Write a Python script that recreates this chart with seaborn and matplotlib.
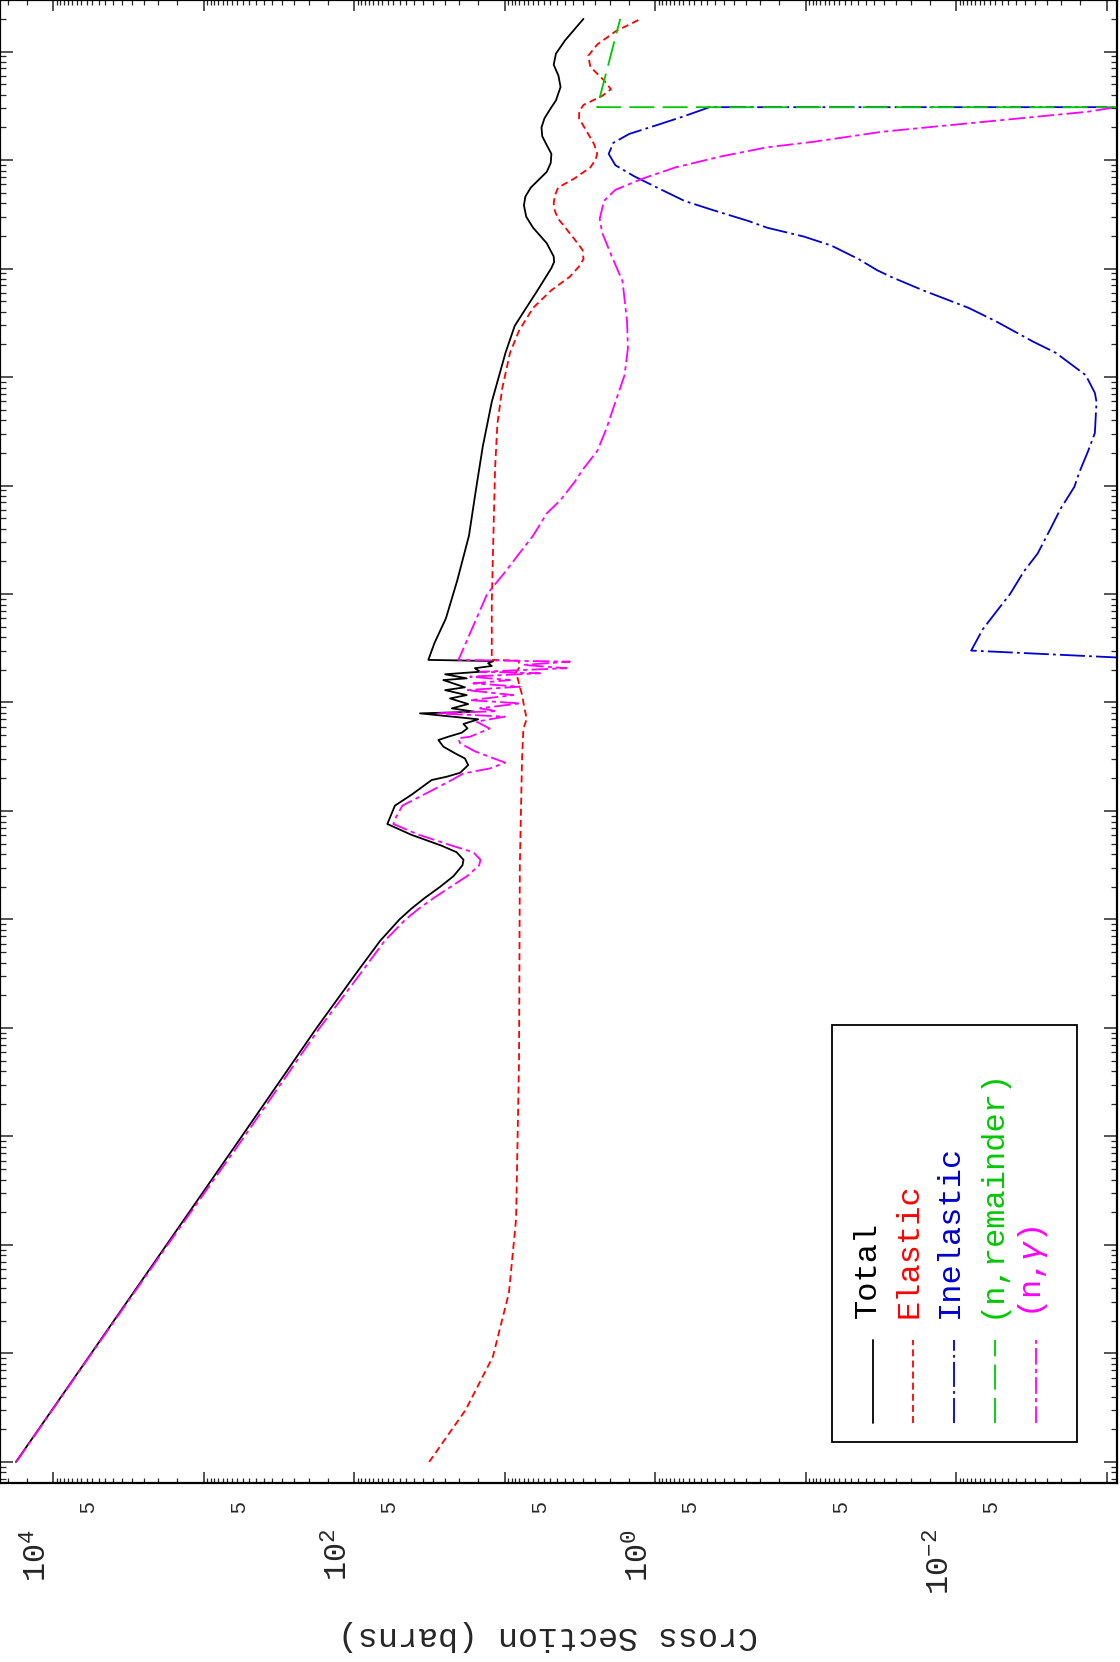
import numpy as np
import matplotlib
matplotlib.use('Agg')
import matplotlib.pyplot as plt
import seaborn as sns
from matplotlib.patches import Rectangle
from matplotlib.ticker import LogLocator

# energies in eV, cross sections in barns
total_e = [1e-5, 1e-4, 1e-3, 0.01, 0.1, 0.316, 0.631, 1.0, 1.26, 1.585, 2.0, 2.51, 3.16, 3.55, 4.17,
           4.79, 6.03, 7.59, 8.91, 11.2, 14.1, 19.3, 20.7, 22.5, 26.5, 30.5, 34.0, 39.2, 45.1, 48.4,
           52.7, 57.8, 63.4, 70.0, 79.4, 82.2, 88.3, 96.8, 109, 117, 130, 138, 161, 167, 182, 192,
           207, 217, 230, 241, 247, 354, 597, 1330, 3440, 8870, 2.29e4, 5.9e4, 1.67e5, 2.96e5,
           4.33e5, 6.31e5, 1.01e6, 1.15e6, 1.29e6, 1.71e6, 2.38e6, 3.0e6, 3.82e6, 4.6e6, 5.58e6,
           7.78e6, 9.4e6, 1.14e7, 1.4e7, 1.66e7, 2.0e7, 2.42e7, 3.0e7, 3.54e7, 4.71e7, 6.0e7, 7.55e7,
           9.57e7, 1.27e8, 2.0e8]
total_xs = [1.77e4, 5600, 1770, 560, 178, 97.7, 67.6, 50.1, 41.7, 33.9, 26.9, 21.9, 19.1, 18.8, 20.9,
            26.3, 41.7, 60.3, 57.5, 53.7, 41.7, 30.6, 24.3, 19.8, 17.5, 18.4, 21.4, 25.6, 27.6, 23.7,
            19.3, 17.7, 18.8, 15.0, 36.6, 15.8, 22.5, 17.5, 23.1, 17.9, 24.9, 18.4, 25.6, 17.9, 24.9,
            14.6, 15.8, 12.2, 12.9, 11.9, 32.2, 29.3, 24.6, 20.7, 17.3, 15.6, 14.0, 12.2, 9.89, 8.59,
            7.21, 6.05, 4.90, 4.70, 4.73, 5.26, 6.49, 7.2, 7.46, 7.3, 6.71,
            5.26, 4.95, 4.90, 5.3, 5.64, 5.7, 5.45, 4.95, 4.57, 4.26, 4.4, 4.73,
            4.57, 3.97, 3.0]

elastic_e = [1e-5, 3.02e-5, 9.33e-5, 3.63e-4, 1.74e-3, 0.0501, 3.16, 19.3, 31.6, 57.5, 70.8, 89.1,
             117, 158, 191, 214, 243, 247, 832, 3440, 1.43e4, 3.68e4, 7.85e4, 1.67e5, 2.69e5,
             4.33e5, 6.31e5, 8.39e5, 1.05e6, 1.22e6, 1.48e6, 1.87e6, 2.88e6, 3.4e6, 4.01e6, 4.7e6,
             5.58e6, 6.75e6, 8.55e6, 1.0e7, 1.14e7, 1.4e7, 1.74e7, 2.42e7, 2.8e7, 3.22e7, 3.89e7,
             4.49e7, 5.42e7, 7.21e7, 9.14e7, 1.16e8, 1.54e8, 2.0e8]
elastic_xs = [31.8, 18.2, 12.0, 9.38, 8.41, 8.04, 7.94, 7.73, 7.67, 7.52, 7.14, 7.41,
              7.67, 8.13, 8.41, 7.93, 8.13, 12.2, 12.2, 11.9, 11.6, 11.2, 10.4, 9.23, 8.02,
              6.49, 4.90, 3.70, 3.2, 3.0, 3.04, 3.45, 4.42, 4.65, 4.73, 4.65,
              4.42, 3.45, 2.70, 2.5, 2.43, 2.55, 2.79, 3.21, 3.2, 3.0, 2.26,
              1.97, 2.19, 2.70, 2.79, 2.43, 1.83, 1.25]

inelastic_e = [251, 301, 471, 687, 1000, 1610, 2360, 4160, 6080, 9750, 1.30e4, 2.08e4, 3.04e4,
               5.9e4, 7.14e4, 1.04e5, 1.67e5, 2.12e5, 3.25e5, 4.33e5, 5.22e5, 6.31e5, 8.39e5,
               9.66e5, 1.22e6, 1.63e6, 1.97e6, 2.38e6, 2.74e6, 3.48e6, 4.20e6, 5.58e6, 7.08e6,
               8.95e6, 1.14e7, 1.44e7, 1.74e7, 2.10e7, 2.54e7, 3.07e7, 3.07e7]
inelastic_xs = [5.0e-4, 7.96e-3, 6.68e-3, 5.42e-3, 4.39e-3, 3.56e-3, 2.88e-3, 2.33e-3, 2.03e-3,
                1.64e-3, 1.53e-3, 1.33e-3, 1.20e-3, 1.17e-3, 1.20e-3, 1.38e-3, 2.18e-3, 3.09e-3,
                5.42e-3, 8.26e-3, 0.0117, 0.0167, 0.0272, 0.0336, 0.0445, 0.0678, 0.103, 0.181,
                0.240, 0.421, 0.640, 0.975, 1.38, 1.84, 2.04, 1.90, 1.49, 0.975, 0.640, 0.436, 1e-6]

remainder_e = [3.07e7, 3.07e7, 2.0e8]
remainder_xs = [1e-6, 2.43, 1.71]

capture_e = [1e-5, 1e-4, 1e-3, 0.01, 0.1, 0.316, 0.631, 1.0, 1.26, 1.585, 2.0, 2.51, 3.16, 3.55,
             4.17, 4.79, 6.03, 7.59, 8.91, 11.2, 14.1, 19.3, 22.2, 24.7, 27.9, 35.5, 42.1, 46.8,
             48.4, 57.5, 66.5, 74.1, 79.4, 83.2, 88.3, 98.2, 105, 117, 130, 140, 150, 161, 173,
             186, 192, 207, 222, 238, 247, 518, 1000, 1610, 2360, 3440, 5530, 7350, 1.07e4,
             1.43e4, 2.08e4, 3.35e4, 5.9e4, 1.04e5, 1.84e5, 3.25e5, 7.62e5, 1.35e6, 2.16e6,
             2.88e6, 4.20e6, 5.32e6, 6.75e6, 8.55e6, 1.08e7, 1.31e7, 1.47e7, 1.82e7, 2.10e7,
             2.42e7, 2.79e7, 3.07e7, 3.07e7]
capture_xs = [1.76e4, 5560, 1740, 537, 170, 91.2, 63.1, 45.7, 37.2, 29.5, 22.9, 17.8, 14.8, 14.5,
              16.2, 22.4, 37.2, 55.0, 52.5, 47.9, 34.7, 22.5, 18.8, 12.5, 9.95, 15.8, 19.8, 20.4,
              17.0, 12.6, 15.4, 10.0, 28.2, 11.3, 14.6, 7.93, 17.0, 8.77, 17.9, 7.93, 16.2, 9.23,
              17.0, 5.83, 14.6, 3.88, 7.53, 3.69, 20.3, 16.1, 13.1, 9.89, 8.02, 6.49, 5.26, 4.26,
              3.45, 3.0, 2.43, 2.11, 1.84, 1.60, 1.52, 1.54, 1.65, 1.97, 2.26, 2.34, 2.19, 1.84,
              1.21, 0.736, 0.365, 0.181, 0.0897, 0.0313, 0.0109, 0.00381, 0.00133, 8.73e-4, 1e-6]

legend_names = ['Total', 'Elastic', 'Inelastic', '(n,remainder)', '(n,$\\mathit{\\gamma}$)']
xs_major = [1e-3, 1e-2, 1e-1, 1.0, 10.0, 100.0, 1e3, 1e4]
xs_major_labels = ['', '$10^{-2}$', '', '$10^{0}$', '', '$10^{2}$', '', '$10^{4}$']

sns.set_style('white')
plt.rcParams['font.family'] = ['Liberation Mono', 'DejaVu Sans']
plt.rcParams['mathtext.fontset'] = 'custom'
plt.rcParams['mathtext.rm'] = 'Liberation Mono'
plt.rcParams['mathtext.it'] = 'Liberation Mono:italic'
plt.rcParams['mathtext.default'] = 'rm'
plt.rcParams['lines.scale_dashes'] = False

colors = ['black', '#ff0000', '#0000d0', '#00c800', '#ff00ff']
styles = ['-', (0, (5, 3)), (0, (18, 3, 2, 3)), (0, (18, 6)), (0, (12, 3, 3, 3))]

fig = plt.figure(figsize=(11.2, 16.62), dpi=100)
ax = fig.add_axes([0.0, 1 - 1483 / 1662, 1117 / 1120, 1483 / 1662])
ax.set_xscale('log')
ax.set_yscale('log')

data = [(total_xs, total_e), (elastic_xs, elastic_e), (inelastic_xs, inelastic_e),
        (remainder_xs, remainder_e), (capture_xs, capture_e)]
for (xs, e), c, ls in zip(data, colors, styles):
    sns.lineplot(x=xs, y=e, ax=ax, color=c, linestyle=ls, linewidth=1.3,
                 sort=False, estimator=None)

# cross-section axis (horizontal, decreasing to the right)
minor_pos = []
minor_lab = []
for k in range(-3, 5):
    for m in np.arange(1.5, 10.0, 0.5):
        minor_pos.append(m * 10.0 ** k)
        minor_lab.append('5' if m == 5 else '')
ax.set_xticks(xs_major, labels=xs_major_labels, rotation=90, ha='right', va='top', fontsize=23)
ax.set_xticks(minor_pos, labels=minor_lab, minor=True, rotation=90, ha='right', va='top',
              fontsize=15, fontfamily='Liberation Sans')
ax.set_xlim(10 ** 4.354, 10 ** -3.068)
ax.set_ylim(10 ** -5.194, 10 ** 8.475)
ax.tick_params(axis='x', which='major', direction='in', length=8, width=1.1,
               top=True, bottom=True, pad=33)
ax.tick_params(axis='x', which='minor', direction='in', length=3.6, width=0.9,
               top=True, bottom=True, pad=13)

# energy axis (vertical), its labels fall outside the picture
ax.yaxis.set_major_locator(LogLocator(base=10, numticks=40))
ax.yaxis.set_minor_locator(LogLocator(base=10, subs=np.arange(2, 10), numticks=40))
ax.tick_params(axis='y', which='major', direction='in', length=9.4, width=1.1,
               left=True, right=True, labelleft=False, labelright=False)
ax.tick_params(axis='y', which='minor', direction='in', length=4.3, width=0.9,
               left=True, right=True, labelleft=False, labelright=False)
ax.set_xlabel('')
ax.set_ylabel('')
for s in ax.spines.values():
    s.set_linewidth(1.6)
    s.set_color('black')

fig.text(548 / 1120, 1 - 1635 / 1662, 'Cross Section (barns)', rotation=180,
         ha='center', va='center', fontsize=24)

# legend box drawn by hand with rotated text
ax.add_patch(Rectangle((832 / 1117, 1 - 1442 / 1483), 245 / 1117, 417 / 1483,
                       transform=ax.transAxes, fill=False, lw=1.3, ec='black', zorder=5))
line_x = [873, 913, 954, 995, 1036]
text_x = [868, 910, 950, 992, 1033]
for name, c, ls, lx, tx in zip(legend_names, colors, styles, line_x, text_x):
    ax.plot([lx / 1117, lx / 1117], [1 - 1423 / 1483, 1 - 1340 / 1483], transform=ax.transAxes,
            color=c, linestyle=ls, linewidth=1.3)
    ax.text(tx / 1117, 1 - 1318 / 1483, name, rotation=90, ha='center', va='bottom',
            transform=ax.transAxes, color=c, fontsize=23)

fig.savefig('out.png', dpi=100)
